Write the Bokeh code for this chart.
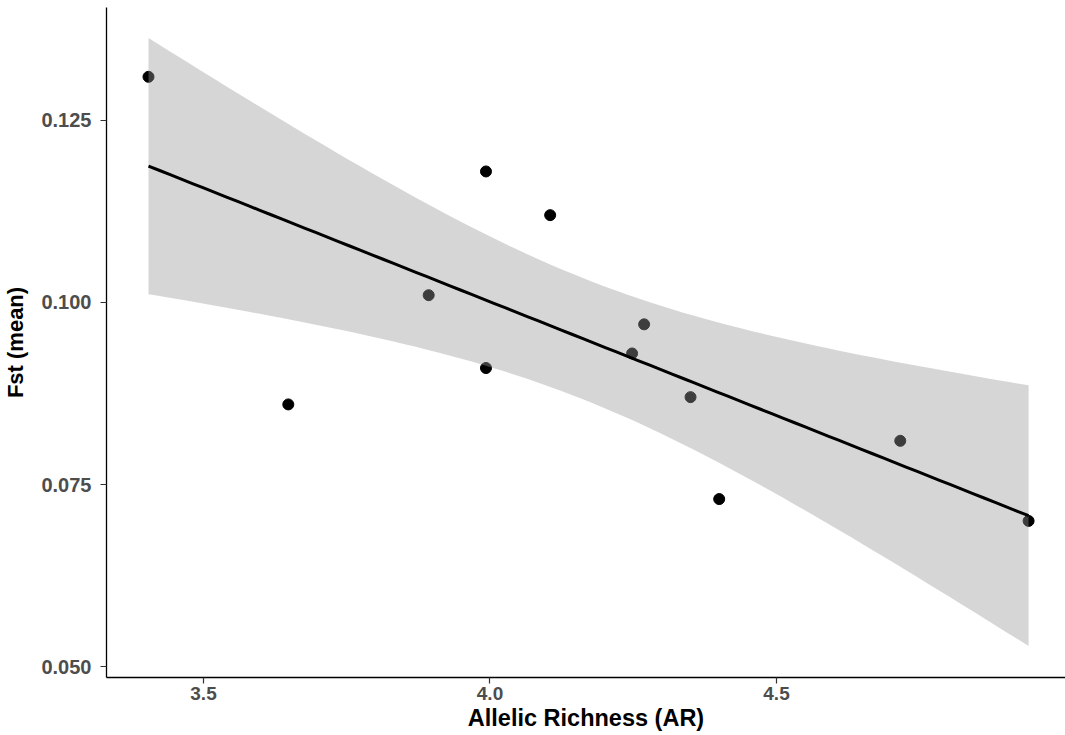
import numpy as np
from bokeh.plotting import figure
from bokeh.models import Range1d, FixedTicker, NumeralTickFormatter
from bokeh.embed import file_html
from bokeh.resources import INLINE

# ---- data ----
allelic_richness = [3.404, 3.648, 3.893, 3.993, 3.993, 4.105, 4.248, 4.269, 4.350, 4.400, 4.716, 4.940]
fst_mean = [0.131, 0.086, 0.101, 0.118, 0.091, 0.112, 0.093, 0.097, 0.087, 0.073, 0.081, 0.070]
x_ticks = [3.5, 4.0, 4.5]
y_ticks = [0.050, 0.075, 0.100, 0.125]
x_title = "Allelic Richness (AR)"
y_title = "Fst (mean)"
T_975 = 2.228139  # Student t quantile, 0.975, df = n - 2 = 10

# ---- linear model with 95% confidence band (geom_smooth(method = "lm")) ----
x = np.array(allelic_richness)
y = np.array(fst_mean)
n = len(x)
slope, intercept = np.polyfit(x, y, 1)
resid = y - (intercept + slope * x)
s = np.sqrt(np.sum(resid ** 2) / (n - 2))
sxx = np.sum((x - x.mean()) ** 2)
xg = np.linspace(x.min(), x.max(), 80)
yg = intercept + slope * xg
se = s * np.sqrt(1.0 / n + (xg - x.mean()) ** 2 / sxx)
lo = yg - T_975 * se
hi = yg + T_975 * se

FONT = "Liberation Sans"

p = figure(width=1065, height=735, output_backend="svg", toolbar_location=None,
           x_range=Range1d(3.3307, 5.0044), y_range=Range1d(0.04849, 0.14052),
           min_border_left=106, min_border_right=0, min_border_top=7, min_border_bottom=58,
           background_fill_color="white", border_fill_color="white")
p.outline_line_color = None
p.xgrid.visible = False
p.ygrid.visible = False

# points first, then ribbon over them (as in the reference), then the fit line
p.scatter(allelic_richness, fst_mean, size=11, color="black")
p.varea(x=xg, y1=lo, y2=hi, fill_color="#999999", fill_alpha=0.4)
p.line(xg, yg, line_color="black", line_width=3)

for ax, ticks, fmt in ((p.xaxis, x_ticks, "0.0"), (p.yaxis, y_ticks, "0.000")):
    ax.ticker = FixedTicker(ticks=ticks)
    ax.formatter = NumeralTickFormatter(format=fmt)
    ax.minor_tick_line_color = None
    ax.major_tick_in = 0
    ax.major_tick_out = 6
    ax.major_tick_line_color = "#333333"
    ax.major_tick_line_width = 1.2
    ax.axis_line_color = "black"
    ax.axis_line_width = 1.3
    ax.major_label_text_font = FONT
    ax.major_label_text_font_style = "bold"
    ax.major_label_text_color = "#4D4D4D"
    ax.axis_label_text_font = FONT
    ax.axis_label_text_font_style = "bold"
    ax.axis_label_text_color = "black"

p.xaxis.major_label_text_font_size = "19px"
p.yaxis.major_label_text_font_size = "20px"
p.xaxis.major_label_standoff = 3
p.yaxis.major_label_standoff = 9
p.xaxis.axis_label = x_title
p.yaxis.axis_label = y_title
p.xaxis.axis_label_text_font_size = "23.5px"
p.yaxis.axis_label_text_font_size = "22px"
p.xaxis.axis_label_standoff = 2
p.yaxis.axis_label_standoff = 10

open("out.html", "w").write(file_html(p, INLINE))
